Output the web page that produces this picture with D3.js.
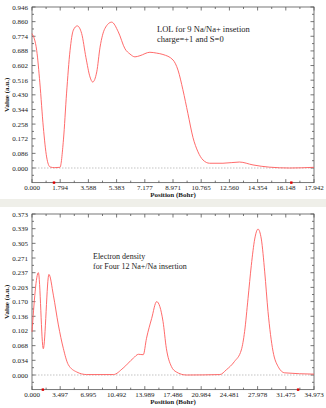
<!DOCTYPE html>
<html>
<head>
<meta charset="utf-8">
<script src="https://cdn.jsdelivr.net/npm/d3@7"></script>
<style>
  body { margin: 0; background: #fff; }
  svg text { font-family: "Liberation Serif", "DejaVu Serif", serif; fill: #222; }
</style>
</head>
<body>
<svg id="chart" width="326" height="408"></svg>
<script>
// LOL profile (top panel)
var lolX = [0, 0.3, 0.5, 0.72, 0.93, 1.15, 1.45, 1.78, 2.0, 2.2, 2.42, 2.63, 2.88, 3.16, 3.43, 3.69, 3.86,
            4.12, 4.33, 4.64, 5.07, 5.49, 5.92, 6.23, 6.55, 6.87, 7.5, 7.93, 8.33, 8.97, 9.29, 9.6, 9.92,
            10.24, 10.56, 10.88, 11.3, 12.15, 13.2, 14.06, 15.1, 16.4, 17.942];
var lolY = [0.79, 0.69, 0.50, 0.24, 0.065, 0.006, 0.002, 0.004, 0.165, 0.44, 0.69, 0.81, 0.835, 0.79, 0.65, 0.535, 0.505,
            0.565, 0.71, 0.82, 0.857, 0.80, 0.70, 0.67, 0.653, 0.66, 0.68, 0.675, 0.667, 0.635, 0.575, 0.46, 0.32,
            0.18, 0.095, 0.047, 0.028, 0.028, 0.035, 0.018, 0.005, 0.0, 0.004];
var lolXTicks = ["0.000", "1.794", "3.588", "5.383", "7.177", "8.971", "10.765", "12.560", "14.354", "16.148", "17.942"];
var lolYTicks = ["0.000", "0.086", "0.172", "0.258", "0.344", "0.430", "0.516", "0.602", "0.688", "0.774", "0.860", "0.946"];
var lolMarks = [1.4, 16.5];

// Electron density profile (bottom panel)
var densX = [0, 0.79, 1.4, 2.1, 2.65, 3.27, 3.88, 4.5, 5.54, 6.78, 10.1, 11.3, 12.57, 13.2, 13.8, 14.2, 14.84,
             15.46, 16.25, 16.66, 17.28, 17.9, 19.14, 23.3, 24.1, 25.1, 25.96, 26.37, 26.79, 27.2, 27.62,
             28.03, 28.44, 28.86, 29.27, 29.89, 30.51, 31.34, 34.9728];
var densY = [0.10, 0.237, 0.061, 0.233, 0.185, 0.116, 0.062, 0.024, 0.007, 0.001, 0.001, 0.016, 0.039, 0.048, 0.047, 0.085, 0.131,
             0.170, 0.124, 0.062, 0.02, 0.007, 0.0, 0.001, 0.012, 0.031, 0.058, 0.101, 0.177, 0.254, 0.315,
             0.338, 0.315, 0.239, 0.147, 0.055, 0.02, 0.005, 0.002];
var densXTicks = ["0.000", "3.497", "6.995", "10.492", "13.989", "17.486", "20.984", "24.481", "27.978", "31.475", "34.973"];
var densYTicks = ["0.000", "0.034", "0.068", "0.102", "0.136", "0.170", "0.203", "0.237", "0.271", "0.305", "0.339", "0.373"];
var densMarks = [1.35, 33.0];

var svg = d3.select("#chart");

// grey strip between the two panels
svg.append("rect").attr("x", 0).attr("y", 199).attr("width", 326).attr("height", 8).attr("fill", "#efefe9");

function drawPanel(opt) {
    var xMax = +opt.xTicks[opt.xTicks.length - 1],
        yMax = +opt.yTicks[opt.yTicks.length - 1],
        yStep = yMax / (opt.yTicks.length - 1);

    var x = d3.scaleLinear().domain([0, xMax]).range([32, 314]);
    var y = d3.scaleLinear().domain([0, yMax]).range([opt.zeroY, opt.topY]);
    var yBottom = y(-yStep), yTop = y(yMax);

    var g = svg.append("g");

    // frame
    g.append("rect")
        .attr("x", x(0)).attr("y", yTop)
        .attr("width", x(xMax) - x(0)).attr("height", yBottom - yTop)
        .attr("fill", "none").attr("stroke", "#555").attr("stroke-width", 0.8);

    // zero line
    g.append("line")
        .attr("x1", x(0)).attr("x2", x(xMax))
        .attr("y1", y(0)).attr("y2", y(0))
        .attr("stroke", "#aaa").attr("stroke-width", 0.7).attr("stroke-dasharray", "1.5,1.5");

    var xt = opt.xTicks.map(Number), yt = opt.yTicks.map(Number);
    var xMinor = d3.pairs(xt).map(p => (p[0] + p[1]) / 2);
    var yMinor = d3.pairs(yt).map(p => (p[0] + p[1]) / 2).concat([-yStep / 2]);

    var tk = g.append("g").attr("stroke", "#555").attr("stroke-width", 0.8);
    xt.forEach(v => {
        tk.append("line").attr("x1", x(v)).attr("x2", x(v)).attr("y1", yBottom).attr("y2", yBottom - 3.5);
        tk.append("line").attr("x1", x(v)).attr("x2", x(v)).attr("y1", yTop).attr("y2", yTop + 3.5);
    });
    xMinor.forEach(v => {
        tk.append("line").attr("x1", x(v)).attr("x2", x(v)).attr("y1", yBottom).attr("y2", yBottom - 2);
        tk.append("line").attr("x1", x(v)).attr("x2", x(v)).attr("y1", yTop).attr("y2", yTop + 2);
    });
    yt.forEach(v => {
        tk.append("line").attr("x1", x(0)).attr("x2", x(0) + 3.5).attr("y1", y(v)).attr("y2", y(v));
        tk.append("line").attr("x1", x(xMax)).attr("x2", x(xMax) - 3.5).attr("y1", y(v)).attr("y2", y(v));
    });
    yMinor.forEach(v => {
        tk.append("line").attr("x1", x(0)).attr("x2", x(0) + 2).attr("y1", y(v)).attr("y2", y(v));
        tk.append("line").attr("x1", x(xMax)).attr("x2", x(xMax) - 2).attr("y1", y(v)).attr("y2", y(v));
    });

    // tick labels
    g.selectAll(".xl").data(opt.xTicks).enter().append("text")
        .attr("x", d => x(+d)).attr("y", yBottom + 7)
        .attr("text-anchor", "middle").style("font-size", "7px").text(d => d);
    g.selectAll(".yl").data(opt.yTicks).enter().append("text")
        .attr("x", 28).attr("y", d => y(+d) + 2.5)
        .attr("text-anchor", "end").style("font-size", "7px").text(d => d);

    // axis titles
    g.append("text").attr("x", (x(0) + x(xMax)) / 2).attr("y", yBottom + 14.5)
        .attr("text-anchor", "middle").style("font-size", "7px").style("font-weight", "bold")
        .text("Position (Bohr)");
    g.append("text")
        .attr("transform", `translate(9,${(yTop + yBottom) / 2}) rotate(-90)`)
        .attr("text-anchor", "middle").style("font-size", "7px").style("font-weight", "bold")
        .text("Value (a.u.)");

    // curve
    var line = d3.line().x(d => x(d[0])).y(d => y(d[1])).curve(d3.curveMonotoneX);
    g.append("path")
        .datum(d3.zip(opt.xs, opt.ys))
        .attr("d", line)
        .attr("fill", "none").attr("stroke", "#ff5a5a").attr("stroke-width", 0.9);

    // small red markers on bottom axis
    g.selectAll(".mk").data(opt.marks).enter().append("rect")
        .attr("x", d => x(d) - 1.2).attr("y", yBottom - 1.2)
        .attr("width", 2.4).attr("height", 2.4).attr("fill", "#d00");

    // annotation
    opt.notes.forEach((t, i) => {
        g.append("text").attr("x", opt.noteX).attr("y", opt.noteY + i * opt.noteGap)
            .style("font-size", opt.noteSize).text(t);
    });
}

drawPanel({
    xs: lolX, ys: lolY, xTicks: lolXTicks, yTicks: lolYTicks, marks: lolMarks,
    topY: 7, zeroY: 168,
    notes: ["LOL for  9 Na/Na+ insetion", "charge=+1 and S=0"],
    noteX: 157, noteY: 32, noteGap: 9.5, noteSize: "8.5px"
});

drawPanel({
    xs: densX, ys: densY, xTicks: densXTicks, yTicks: densYTicks, marks: densMarks,
    topY: 214, zeroY: 375,
    notes: ["Electron density", "for Four  12 Na+/Na insertion"],
    noteX: 93, noteY: 259, noteGap: 10, noteSize: "8px"
});
</script>
</body>
</html>
